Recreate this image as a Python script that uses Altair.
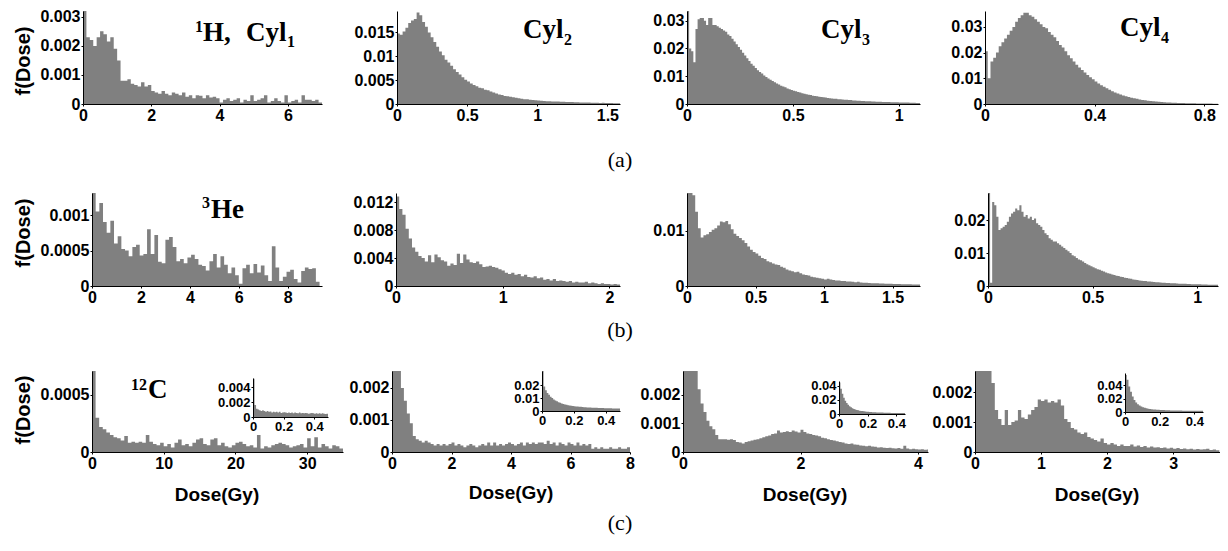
import altair as alt
import pandas as pd

# ---------------- data: histogram bar heights ----------------
# row (a): 1H
H_CYL1 = [3.2,2.3,2.2,2.0,2.3,2.5,2.4,2.15,2.3,1.9, 1.5,0.8,0.8,0.85,0.7,0.65,0.6,0.75,0.6,0.65,
          0.45,0.4,0.35,0.45,0.35,0.3,0.4,0.35,0.3,0.4, 0.25,0.3,0.2,0.3,0.28,0.2,0.3,0.22,0.25,0.2,
          0.05,0.15,0.2,0.1,0.15,0.2,0.05,0.15,0.1,0.3, 0.1,0.15,0.2,0.3,0.05,0.1,0.2,0.1,0.05,0.3,
          0.05,0.1,0.15,0.05,0.3,0.15,0.15,0.1,0.15,0.05]            # x1e-3, bins 0.1 Gy
H_CYL2 = [14.8,14.5,15.2,16.0,17.0,17.5,17.8,19.2,18.6,17.2, 16.2,15.0,14.0,13.0,12.0,11.0,10.2,9.3,8.7,8.0,
          7.3,6.7,6.2,5.6,5.1,4.7,4.3,4.0,3.7,3.4, 3.3,3.0,2.9,2.6,2.4,2.2,2.0,1.9,1.7,1.6,
          1.5,1.4,1.3,1.2,1.1,1.0,1.0,0.9,0.85,0.8, 0.75,0.7,0.65,0.6,0.6,0.55,0.5,0.5,0.45,0.45,
          0.4,0.4,0.4,0.35,0.35,0.3,0.3,0.3,0.3,0.25, 0.25,0.25,0.2,0.25,0.2,0.2,0.2,0.15,0.15,0.15]  # x1e-3, bins 0.02
H_CYL3 = [34,20,19,15,27,30.5,31,31,30,28.5, 31,31,28.5,28.5,28,27.5,27,26.5,26,25,
          24.5,23.5,22.5,21.5,20.5,19.5,18.5,17.5,16.5,15.5, 14.5,13.8,13,12.2,11.5,11,10.3,9.7,9.2,8.7,
          8.3,7.8,7.4,7,6.6,6.3,6,5.6,5.3,5, 4.8,4.6,4.3,4.1,3.9,3.7,3.5,3.3,3.2,3,
          2.9,2.8,2.6,2.5,2.4,2.3,2.2,2.1,2,1.9, 1.85,1.75,1.7,1.6,1.55,1.5,1.45,1.4,1.3,1.25,
          1.2,1.15,1.1,1.05,1.0,1.0,0.95,0.9,0.9,0.85, 0.8,0.8,0.75,0.75,0.7,0.7,0.65,0.65,0.6,0.6,
          0.55,0.55,0.5,0.5,0.5,0.45,0.45,0.45,0.4,0.4]              # x1e-3, bins 0.01
H_CYL4 = [20.5,10,16.5,18,20,22.5,24,25.5,27,28.5, 30,32,33.5,34.5,35.5,35.5,34.5,34,33,32,
          31,30,29.5,28,27,26,24.5,23,22,20.5, 19,17.8,16.5,15.3,14.2,13.2,12.3,11.3,10.4,9.6,
          8.8,8,7.3,6.7,6.1,5.5,5,4.5,4.1,3.7, 3.3,3,2.7,2.4,2.2,2,1.8,1.6,1.45,1.3,
          1.15,1.05,0.95,0.85,0.75,0.7,0.6,0.55,0.5,0.45, 0.4,0.38,0.35,0.32,0.3,0.27,0.25,0.22,0.2,0.2,
          0.18,0.16,0.15,0.14,0.12]                                  # x1e-3, bins 0.01
# row (b): 3He
HE_CYL1 = [13.3,10.5,11.7,9.0,7.5,9.2,6.0,7.0,5.2,5.0, 4.2,5.5,5.8,4.3,4.5,8.0,4.5,7.2,3.4,3.2,
           6.5,6.9,5.5,3.5,3.8,3.2,4.0,4.4,3.8,3.0, 2.8,2.2,3.5,4.5,2.6,4.2,3.0,1.8,2.6,1.5,
           0.3,2.5,3.0,1.8,3.1,1.9,2.9,1.5,0.7,5.6, 2.6,0.7,1.3,2.0,2.3,1.0,0.5,2.1,2.6,2.4,
           2.5,0.6]                                                   # x1e-4, bins 0.15
HE_CYL2 = [12.8,11.0,10.2,8.2,6.8,5.5,4.9,4.3,4.0,3.5, 4.4,3.4,4.5,4.1,3.7,3.5,2.9,3.2,3.0,4.6,
           3.3,4.5,3.8,3.4,3.3,3.5,3.1,2.7,2.8,2.9, 2.7,2.6,2.4,2.2,1.9,1.7,1.9,1.6,1.7,1.4,
           1.6,1.3,1.2,1.4,1.1,1.2,0.9,1.0,0.8,1.0, 0.7,0.8,0.7,0.6,0.7,0.5,0.6,0.5,0.5,0.6,
           0.4,0.5,0.4,0.3,0.4,0.3,0.3,0.2,0.3,0.2]                  # x1e-3, bins 0.03
HE_CYL3 = [17,17,16.5,13.5,10.5,8.8,9.2,9.4,9.8,10.2, 10.5,11.0,11.7,11.6,11.8,11.2,10.3,9.5,9.1,8.7,
           8.3,7.8,7.2,6.6,6.2,5.9,5.5,5.1,4.9,4.5, 4.3,4.1,3.9,3.8,3.5,3.3,3.0,2.8,2.7,2.5,
           2.6,2.3,2.1,2.0,1.9,1.7,1.6,1.5,1.4,1.3, 1.2,1.3,1.2,1.1,1.0,1.0,0.9,0.9,0.8,0.8,
           0.75,0.7,0.75,0.65,0.6,0.6,0.55,0.5,0.5,0.5, 0.45,0.45,0.4,0.4,0.4,0.35,0.35,0.35,0.3,0.3,
           0.3,0.3,0.25,0.25,0.25]                                    # x1e-3, bins 0.02
HE_CYL4 = [28.5,1.0,25.5,24.5,21.0,17.0,17.5,18.0,18.5,19.5, 21.0,22.0,22.5,23.5,23.0,24.5,22.5,21.0,21.5,20.5,
           21.0,20.0,20.5,19.0,18.5,18.0,17.0,16.0,15.5,14.5, 14.0,13.5,13.5,13.0,12.5,12.0,11.5,11.0,10.5,10.0,
           9.3,9.0,8.5,8.0,7.8,7.4,7.0,6.6,6.3,6.0, 5.7,5.4,5.1,4.9,4.6,4.4,4.1,3.9,3.7,3.5,
           3.3,3.1,3.0,2.8,2.7,2.5,2.4,2.3,2.2,2.0, 1.9,1.8,1.7,1.6,1.55,1.5,1.4,1.35,1.3,1.2,
           1.15,1.1,1.05,1.0,0.95,0.9,0.9,0.85,0.8,0.8, 0.75,0.7,0.7,0.65,0.65,0.6,0.6,0.55,0.55,0.5,
           0.5,0.5,0.45,0.45,0.45,0.4,0.4,0.4,0.35,0.35]             # x1e-3, bins 0.01
# row (c): 12C
C_CYL1 = [7.2,3.0,2.2,2.0,1.7,1.5,1.3,1.2,1.0,1.4, 0.8,0.9,0.8,0.9,0.8,1.5,0.9,0.7,0.6,0.8,
          0.5,0.7,0.4,0.8,1.1,0.6,0.7,0.5,0.8,1.1, 1.2,0.7,0.6,1.1,1.2,0.6,0.8,0.5,0.4,0.6,
          0.8,0.9,0.7,0.5,0.6,0.4,1.5,0.3,0.5,0.4, 0.6,0.7,0.8,0.7,0.6,0.4,0.5,0.6,0.7,0.4,
          1.2,0.5,1.3,0.4,0.7,0.5,0.3,0.6,0.5,0.3]                  # x1e-4, bins 0.5
C_CYL2 = [30,30,30,20,16,12,9,5,4,3.5, 3,3.5,3,2.5,2,2.5,2,2.5,2,2.5,
          3,2,2.5,2,1.5,2,2.5,2,1.5,2, 2.5,2,3,2,3,2,2.5,2,2.5,3,
          2.5,2,2.5,3,2,3,2.5,3,2.5,3, 3,2.5,3.5,2.5,3,2,3,2.5,2,3,
          2.5,2,3,2,2.5,2,2.5,1,1.5,1, 1.5,1,1,1.5,1,1,1.5,1,1,1.5]  # x1e-4, bins 0.1
C_CYL3 = [30,30,30,30,30,22,17,14,11,9, 8,6,4.5,4.5,4.5,4.3,4.5,4.2,3.5,3.3,
          3.0,3.5,3.8,4.0,4.3,4.5,4.8,5.2,5.5,5.8, 6.3,6.5,7.5,6.8,7.0,7.3,7.0,7.5,7.2,6.8,
          7.8,7.0,6.5,6.3,6.0,5.8,5.5,5.0,4.8,4.5, 4.2,4.0,3.8,3.5,3.3,3.0,2.8,3.0,2.6,2.5,
          2.3,2.2,2.0,2.2,1.9,1.8,1.6,1.7,1.5,1.4, 1.5,1.3,1.2,1.4,1.1,2.2,1.2,1.0,1.1,1.0,
          0.9,1.0,0.8,0.9]                                            # x1e-4, bins 0.05
C_CYL4 = [30,30,30,30,30,23,14,11,9,14, 9,10,10.5,14,11.5,11,12.5,14,15,17.5,
          17,17.5,16.5,17,16.5,17.5,15.5,11,10,8, 7.5,6.5,6,6.5,5,4.5,4,3.5,4.5,3,
          2.5,3,2.5,2.0,2.5,2.0,2.0,2.5,1.8,2.2, 1.7,2.0,1.5,1.8,1.5,1.6,1.3,1.5,1.2,1.4,
          1.1,1.3,1.0,1.2,0.9,1.1,0.8,1.0,0.8,0.9, 1.1,0.7,0.8,0.6]  # x1e-4, bins 0.05
# insets of row (c), 0-0.5 Gy
C_IN1 = [5.1,1.6,1.1,1.0,0.9,0.8,0.9,0.8,0.7,0.8, 0.7,0.75,0.6,0.7,0.65,0.7,0.6,0.7,0.55,0.6,
         0.65,0.6,0.55,0.6,0.55,0.6,0.5,0.6,0.55,0.5, 0.6,0.5,0.55,0.5,0.55,0.5,0.45,0.5,0.55,0.5,
         0.45,0.5,0.45,0.5,0.45,0.5,0.45,0.4,0.45]                  # x1e-3, bins 0.01
C_IN2 = [31,19,16,14,12.5,11,10,9,8.2,7.5, 6.8,6.3,5.8,5.4,5.0,4.8,4.5,4.3,4.1,3.9,
         3.7,3.5,3.4,3.3,3.2,3.1,3.0,2.9,2.8,2.8, 2.7,2.6,2.6,2.5,2.5,2.4,2.4,2.3,2.3,2.2,
         2.2,2.2,2.1,2.1,2.0,2.0,2.0,1.9,1.9]                         # x1e-3, bins 0.01
C_IN3 = [45,36,29,23,19,15.5,13,11,9.5,8.2, 7.2,6.4,5.8,5.2,4.8,4.4,4.1,3.8,3.5,3.3,
         3.1,2.9,2.8,2.6,2.5,2.4,2.3,2.2,2.1,2.0, 2.0,1.9,1.8,1.8,1.7,1.7,1.6,1.6,1.5,1.5,
         1.5,1.4,1.4,1.4,1.3,1.3]                                     # x1e-3, bins 0.01
C_IN4 = [55,48,38,30,23,18,14,11.5,9.5,8, 7,6.2,5.5,5,4.6,4.2,3.9,3.6,3.4,3.2,
         3.0,2.9,2.8,2.7,2.6,2.5,2.4,2.3,2.3,2.2, 2.2,2.1,2.1,2.0,2.0,2.0,1.9,1.9,1.9,1.8,
         1.8,1.8,1.7,1.7,1.7]                                         # x1e-3, bins 0.01

# ---------------- layout (page pixels) ----------------
ORIGIN = 8
W, H = 1212, 535
GRAY = "#808080"
SANS = "Liberation Sans"
SERIF = "Liberation Serif"

PANELS = [
    dict(vals=H_CYL1, bw=0.1, unit=1e-3, xdom=[0, 7], ydom=[0, 0.0032], box=(83, 322, 8, 101),
         xt=[0, 2, 4, 6], yt=[0, 0.001, 0.002, 0.003]),
    dict(vals=H_CYL2, bw=0.02, unit=1e-3, xdom=[0, 1.59], ydom=[0, 0.0195], box=(397, 620, 8, 101),
         xt=[0, 0.5, 1, 1.5], yt=[0, 0.005, 0.01, 0.015]),
    dict(vals=H_CYL3, bw=0.01, unit=1e-3, xdom=[0, 1.1], ydom=[0, 0.0335], box=(687, 920, 8, 101),
         xt=[0, 0.5, 1], yt=[0, 0.01, 0.02, 0.03]),
    dict(vals=H_CYL4, bw=0.01, unit=1e-3, xdom=[0, 0.85], ydom=[0, 0.0362], box=(985, 1218, 8, 101),
         xt=[0, 0.4, 0.8], yt=[0, 0.01, 0.02, 0.03]),
    dict(vals=HE_CYL1, bw=0.15, unit=1e-4, xdom=[0, 9.4], ydom=[0, 0.00131], box=(92, 322, 190, 283),
         xt=[0, 2, 4, 6, 8], yt=[0, 0.0005, 0.001]),
    dict(vals=HE_CYL2, bw=0.03, unit=1e-3, xdom=[0, 2.1], ydom=[0, 0.0133], box=(396, 620, 190, 283),
         xt=[0, 1, 2], yt=[0, 0.004, 0.008, 0.012]),
    dict(vals=HE_CYL3, bw=0.02, unit=1e-3, xdom=[0, 1.7], ydom=[0, 0.0169], box=(687, 920, 190, 283),
         xt=[0, 0.5, 1, 1.5], yt=[0, 0.01]),
    dict(vals=HE_CYL4, bw=0.01, unit=1e-3, xdom=[0, 1.1], ydom=[0, 0.0282], box=(988, 1218, 190, 283),
         xt=[0, 0.5, 1], yt=[0, 0.01, 0.02]),
    dict(vals=C_CYL1, bw=0.5, unit=1e-4, xdom=[0, 35], ydom=[0, 0.00071], box=(92, 343, 368, 449),
         xt=[0, 10, 20, 30], yt=[0, 0.0005]),
    dict(vals=C_CYL2, bw=0.1, unit=1e-4, xdom=[0, 8], ydom=[0, 0.00253], box=(392, 630, 368, 449),
         xt=[0, 2, 4, 6, 8], yt=[0, 0.001, 0.002]),
    dict(vals=C_CYL3, bw=0.05, unit=1e-4, xdom=[0, 4.17], ydom=[0, 0.00284], box=(683, 928, 368, 449),
         xt=[0, 2, 4], yt=[0, 0.001, 0.002]),
    dict(vals=C_CYL4, bw=0.05, unit=1e-4, xdom=[0, 3.71], ydom=[0, 0.0027], box=(975, 1220, 368, 449),
         xt=[0, 1, 2, 3], yt=[0, 0.001, 0.002]),
    dict(vals=C_IN1, bw=0.01, unit=1e-3, xdom=[0, 0.49], ydom=[0, 0.0052], box=(253, 328, 375, 414),
         xt=[0, 0.2, 0.4], yt=[0, 0.002, 0.004], inset=True),
    dict(vals=C_IN2, bw=0.01, unit=1e-3, xdom=[0, 0.49], ydom=[0, 0.031], box=(542, 620, 368, 408),
         xt=[0, 0.2, 0.4], yt=[0, 0.01, 0.02], inset=True),
    dict(vals=C_IN3, bw=0.01, unit=1e-3, xdom=[0, 0.46], ydom=[0, 0.047], box=(839, 905, 378, 411),
         xt=[0, 0.2, 0.4], yt=[0, 0.02, 0.04], inset=True),
    dict(vals=C_IN4, bw=0.01, unit=1e-3, xdom=[0, 0.45], ydom=[0, 0.058], box=(1125, 1203, 370, 409),
         xt=[0, 0.2, 0.4], yt=[0, 0.02, 0.04], inset=True),
]

AXIS_STYLE = dict(grid=False, format=".6~r", labelFont=SANS, labelFontWeight="bold",
                  labelColor="black", domainColor="black", domainWidth=1, tickColor="black",
                  tickSize=2, labelPadding=1, labelOverlap=False, labelFlush=False, zindex=1)


def hist_frame(vals, bw, unit):
    xs = [i * bw for i in range(len(vals))] + [len(vals) * bw]
    ys = [v * unit for v in vals] + [vals[-1] * unit]
    return pd.DataFrame({"x": xs, "y": ys})


def panel(p):
    x0, x1, yt, yb = [v - ORIGIN for v in p["box"]]
    fs = 13 if p.get("inset") else 16
    df = hist_frame(p["vals"], p["bw"], p["unit"])
    xaxis = alt.Axis(orient="bottom", offset=yb - H, values=p["xt"], title=None, labelFontSize=fs, **AXIS_STYLE)
    yaxis = alt.Axis(orient="left", offset=-x0, values=p["yt"], title=None, labelFontSize=fs, **AXIS_STYLE)
    return alt.Chart(df).mark_area(interpolate="step-after", color=GRAY, opacity=1).encode(
        x=alt.X("x:Q", scale=alt.Scale(domain=p["xdom"], range=[x0, x1], nice=False, zero=False, clamp=True),
                axis=xaxis),
        y=alt.Y("y:Q", scale=alt.Scale(domain=p["ydom"], range=[yb, yt], nice=False, clamp=True),
                axis=yaxis),
    )


# ---------------- text annotations (page pixel positions) ----------------
BIG_LABELS = pd.DataFrame({
    "t": ["H,", "Cyl", "Cyl", "Cyl", "Cyl", "He", "C"],
    "px": [203, 246, 523, 821, 1120, 211, 148],
    "py": [38, 38, 35, 35, 33, 215, 395],
})
SMALL_LABELS = pd.DataFrame({
    "t": ["1", "1", "2", "3", "4", "3", "12"],
    "px": [195, 287, 564, 862, 1161, 202, 131],
    "py": [29, 44, 42, 42, 40, 205, 387],
})
ROW_LABELS = pd.DataFrame({"t": ["(a)", "(b)", "(c)"], "px": [620, 620, 620], "py": [157, 327, 520]})
YTITLES = pd.DataFrame({"t": ["f(Dose)"] * 3, "px": [24, 24, 24], "py": [58, 230, 407]})
XTITLES = pd.DataFrame({"t": ["Dose(Gy)"] * 4, "px": [217, 511, 805, 1097], "py": [492, 490, 492, 492]})


def text_layer(df, **mark):
    d = df.assign(px=df["px"] - ORIGIN, py=df["py"] - ORIGIN)
    return alt.Chart(d).mark_text(color="black", **mark).encode(
        x=alt.X("px:Q", scale=None, axis=None),
        y=alt.Y("py:Q", scale=None, axis=None),
        text="t:N",
    )


layers = [panel(p) for p in PANELS]
layers += [
    text_layer(BIG_LABELS, font=SERIF, fontWeight="bold", fontSize=27, align="left", baseline="alphabetic"),
    text_layer(SMALL_LABELS, font=SERIF, fontWeight="bold", fontSize=16, align="left", baseline="alphabetic"),
    text_layer(ROW_LABELS, font=SERIF, fontSize=22, align="center", baseline="middle"),
    text_layer(YTITLES, font=SANS, fontWeight="bold", fontSize=20, angle=270, align="center", baseline="middle"),
    text_layer(XTITLES, font=SANS, fontWeight="bold", fontSize=19, align="center", baseline="middle"),
]

chart = alt.layer(*layers).resolve_scale(x="independent", y="independent").properties(
    width=W, height=H, padding=0
).configure_view(stroke=None)

chart.save("out.html", embed_options={"renderer": "svg", "actions": False})
